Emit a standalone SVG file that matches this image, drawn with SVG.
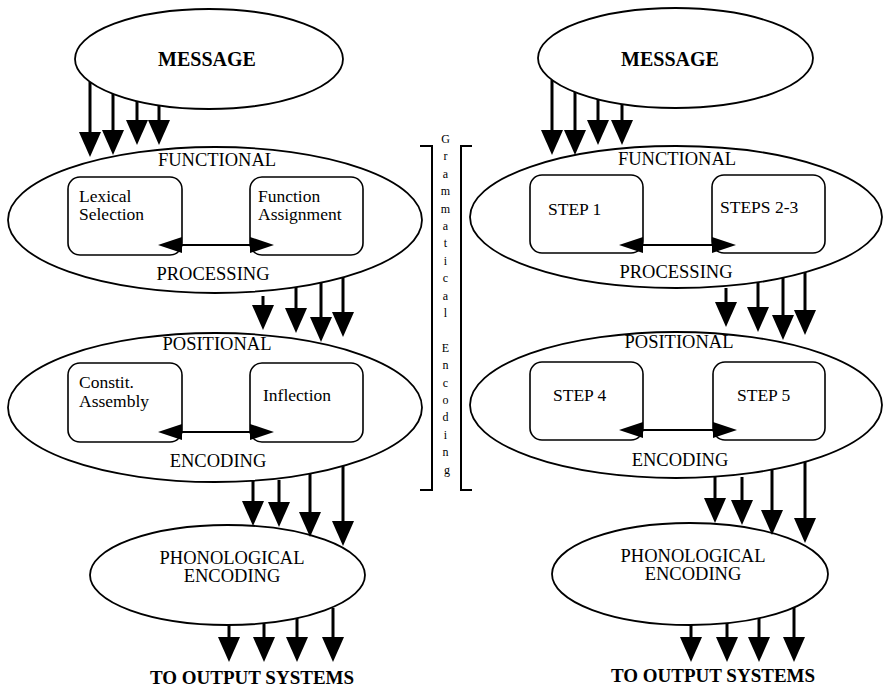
<svg xmlns="http://www.w3.org/2000/svg" width="883" height="687" viewBox="0 0 883 687">
  <style>
    .oval { fill: none; stroke: #000; stroke-width: 1.8; }
    .box { fill: none; stroke: #000; stroke-width: 1.6; }
    .lbl { font-family: "Liberation Serif", "Times New Roman", serif; font-size: 18.5px; fill: #000; text-anchor: middle; }
    .btxt { font-family: "Liberation Serif", "Times New Roman", serif; font-size: 17.5px; fill: #000; }
    .bold { font-family: "Liberation Serif", "Times New Roman", serif; font-weight: bold; fill: #000; text-anchor: middle; }
    .flow { stroke: #000; stroke-width: 3; fill: none; marker-end: url(#head); }
    .link { stroke: #000; stroke-width: 2; fill: none; marker-start: url(#tip); marker-end: url(#tip); }
    .brk { stroke: #000; stroke-width: 2; fill: none; }
    .vert { font-family: "Liberation Serif", "Times New Roman", serif; font-size: 12px; fill: #000; text-anchor: middle; }
  </style>
  <defs>
    <marker id="head" markerUnits="userSpaceOnUse" markerWidth="25" markerHeight="22" refX="20" refY="11" orient="auto" overflow="visible">
      <path d="M0,0 L25,11 L0,22 Z" fill="#000"/>
    </marker>
    <marker id="tip" markerUnits="userSpaceOnUse" markerWidth="24" markerHeight="16" refX="0" refY="8" orient="auto-start-reverse" overflow="visible">
      <path d="M0,0 L24,8 L0,16 Z" fill="#000"/>
    </marker>
  </defs>

  <!-- left column -->
  <g id="msg-left">
    <ellipse class="oval" cx="209" cy="59" rx="134" ry="50"/>
    <text class="bold" x="207" y="66" font-size="20">MESSAGE</text>
  </g>
  <g id="functional-left">
    <ellipse class="oval" cx="215" cy="220" rx="207" ry="73"/>
    <text class="lbl" x="217" y="166">FUNCTIONAL</text>
    <text class="lbl" x="213" y="280">PROCESSING</text>
  </g>
  <g id="lexical-selection">
    <rect class="box" x="68" y="177" width="114" height="78" rx="12"/>
    <text class="btxt" x="79" y="202">Lexical</text>
    <text class="btxt" x="79" y="220">Selection</text>
  </g>
  <g id="function-assignment">
    <rect class="box" x="250" y="177" width="113" height="78" rx="12"/>
    <text class="btxt" x="258" y="202">Function</text>
    <text class="btxt" x="258" y="220">Assignment</text>
  </g>
  <g id="positional-left">
    <ellipse class="oval" cx="215" cy="407.5" rx="207" ry="74.5"/>
    <text class="lbl" x="217" y="350">POSITIONAL</text>
    <text class="lbl" x="218" y="467">ENCODING</text>
  </g>
  <g id="constit-assembly">
    <rect class="box" x="68" y="363" width="114" height="79" rx="12"/>
    <text class="btxt" x="79" y="388">Constit.</text>
    <text class="btxt" x="79" y="407">Assembly</text>
  </g>
  <g id="inflection">
    <rect class="box" x="250" y="363" width="113" height="79" rx="12"/>
    <text class="btxt" x="263" y="401">Inflection</text>
  </g>
  <g id="phono-left">
    <ellipse class="oval" cx="227.5" cy="575" rx="137.5" ry="50"/>
    <text class="lbl" x="232" y="564">PHONOLOGICAL</text>
    <text class="lbl" x="232" y="582">ENCODING</text>
  </g>
  <g id="out-left">
    <text class="bold" x="252" y="684" font-size="19">TO OUTPUT SYSTEMS</text>
  </g>

  <!-- bracketed vertical label between the columns -->
  <g id="grammatical-encoding">
    <path class="brk" d="M420,146 H432 V490 H420"/>
    <path class="brk" d="M472,146 H461 V490 H472"/>
    <text class="vert">
      <tspan x="447" y="143">G</tspan>
      <tspan x="447" y="160.4">r</tspan>
      <tspan x="447" y="177.8">a</tspan>
      <tspan x="447" y="195.2">m</tspan>
      <tspan x="447" y="212.6">m</tspan>
      <tspan x="447" y="230">a</tspan>
      <tspan x="447" y="247.4">t</tspan>
      <tspan x="447" y="264.8">i</tspan>
      <tspan x="447" y="282.2">c</tspan>
      <tspan x="447" y="299.6">a</tspan>
      <tspan x="447" y="317">l</tspan>
      <tspan x="447" y="351.8">E</tspan>
      <tspan x="447" y="369.2">n</tspan>
      <tspan x="447" y="386.6">c</tspan>
      <tspan x="447" y="404">o</tspan>
      <tspan x="447" y="421.4">d</tspan>
      <tspan x="447" y="438.8">i</tspan>
      <tspan x="447" y="456.2">n</tspan>
      <tspan x="447" y="473.6">g</tspan>
    </text>
  </g>

  <!-- right column -->
  <g id="msg-right">
    <ellipse class="oval" cx="675.5" cy="58" rx="137.5" ry="50"/>
    <text class="bold" x="670" y="66" font-size="20">MESSAGE</text>
  </g>
  <g id="functional-right">
    <ellipse class="oval" cx="676" cy="217" rx="206" ry="71"/>
    <text class="lbl" x="677" y="165">FUNCTIONAL</text>
    <text class="lbl" x="676" y="278">PROCESSING</text>
  </g>
  <g id="step1">
    <rect class="box" x="530" y="175" width="113" height="78" rx="12"/>
    <text class="btxt" x="548" y="215">STEP 1</text>
  </g>
  <g id="steps2-3">
    <rect class="box" x="712" y="175" width="113" height="78" rx="12"/>
    <text class="btxt" x="720" y="213">STEPS 2-3</text>
  </g>
  <g id="positional-right">
    <ellipse class="oval" cx="676" cy="405" rx="206" ry="73"/>
    <text class="lbl" x="679" y="348">POSITIONAL</text>
    <text class="lbl" x="680" y="466">ENCODING</text>
  </g>
  <g id="step4">
    <rect class="box" x="530" y="362" width="113" height="78" rx="12"/>
    <text class="btxt" x="553" y="401">STEP 4</text>
  </g>
  <g id="step5">
    <rect class="box" x="713" y="362" width="112" height="78" rx="12"/>
    <text class="btxt" x="737" y="401">STEP 5</text>
  </g>
  <g id="phono-right">
    <ellipse class="oval" cx="690" cy="574" rx="138" ry="51"/>
    <text class="lbl" x="693" y="562">PHONOLOGICAL</text>
    <text class="lbl" x="693" y="580">ENCODING</text>
  </g>
  <g id="out-right">
    <text class="bold" x="713" y="682" font-size="19">TO OUTPUT SYSTEMS</text>
  </g>

  <!-- connectors: line ends 5px short of each arrow tip -->
  <g id="connectors">
    <!-- left: message to functional -->
    <path class="flow" d="M90,82 V152"/>
    <path class="flow" d="M113,94 V150"/>
    <path class="flow" d="M137,101 V140"/>
    <path class="flow" d="M159,105 V140"/>
    <!-- left: functional to positional -->
    <path class="flow" d="M263,296 V325"/>
    <path class="flow" d="M296,287 V328"/>
    <path class="flow" d="M321,283 V337"/>
    <path class="flow" d="M343,278 V332"/>
    <!-- left: positional to phonological -->
    <path class="flow" d="M253,480 V521"/>
    <path class="flow" d="M279,480 V522"/>
    <path class="flow" d="M310,473 V532"/>
    <path class="flow" d="M343,466 V541"/>
    <!-- left: phonological to output -->
    <path class="flow" d="M229,625 V657"/>
    <path class="flow" d="M264,624 V657"/>
    <path class="flow" d="M297,618 V657"/>
    <path class="flow" d="M333,608 V657"/>
    <!-- left: box links -->
    <path class="link" d="M182,245 H250"/>
    <path class="link" d="M182,432 H250"/>

    <!-- right: message to functional -->
    <path class="flow" d="M552,80 V150"/>
    <path class="flow" d="M575,92 V150"/>
    <path class="flow" d="M598,99 V140"/>
    <path class="flow" d="M622,104 V140"/>
    <!-- right: functional to positional -->
    <path class="flow" d="M726,288 V322"/>
    <path class="flow" d="M758,282 V327"/>
    <path class="flow" d="M783,278 V335"/>
    <path class="flow" d="M805,272 V330"/>
    <!-- right: positional to phonological -->
    <path class="flow" d="M715,477 V518"/>
    <path class="flow" d="M742,477 V520"/>
    <path class="flow" d="M772,470 V530"/>
    <path class="flow" d="M805,462 V538"/>
    <!-- right: phonological to output -->
    <path class="flow" d="M691,625 V657"/>
    <path class="flow" d="M727,623 V657"/>
    <path class="flow" d="M759,618 V657"/>
    <path class="flow" d="M794,607 V657"/>
    <!-- right: box links -->
    <path class="link" d="M643,245 H712"/>
    <path class="link" d="M643,430 H713"/>
  </g>
</svg>
